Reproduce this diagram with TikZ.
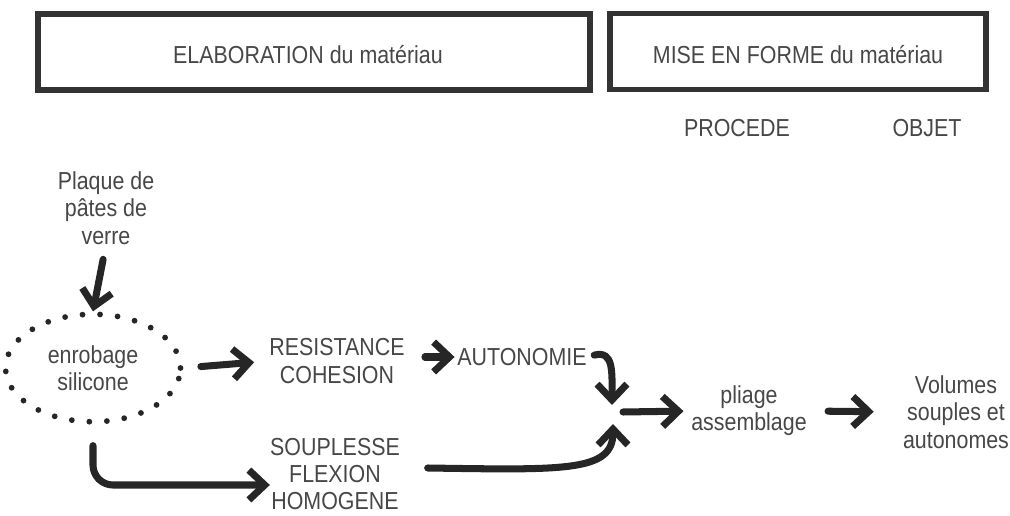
\documentclass[tikz,border=0pt]{standalone}
\usepackage{fontspec}
\setmainfont{Liberation Sans}[FakeStretch=0.87]
\usetikzlibrary{arrows.meta, shapes.geometric, positioning}

\tikzset{
  lbl/.style={align=center, font=\fontsize{14}{15.5}\selectfont, inner sep=0pt, text=black!72},
  frame/.style={draw=black!80, line width=3.4pt, minimum height=1.52cm},
  fat/.style={-{Straight Barb[length=9pt,width=17pt,line width=4pt]}, line width=4pt, draw=black!85, line cap=round}
}

\begin{document}
\begin{tikzpicture}[x=0.02cm, y=-0.02cm]
\useasboundingbox (0,0) rectangle (1010,516);

% headers
\node[frame, minimum width=11.04cm] (elabbox) at (314,52) {};
\node[lbl] (elab) at (308,55) {ELABORATION du matériau};
\node[frame, minimum width=7.52cm] (misebox) at (798,51.5) {};
\node[lbl] (mise) at (798,55) {MISE EN FORME du matériau};
\node[lbl] (procede) at (737,128) {PROCEDE};
\node[lbl] (objet) at (927,128) {OBJET};

% material
\node[lbl] (plaque) at (106,208) {Plaque de\\pâtes de\\verre};
\node[lbl, ellipse, draw=black!85, line width=3.3pt, line cap=round,
  dash pattern=on 0pt off 10pt, minimum width=3.5cm, minimum height=2.15cm] (enrob) at (93,368) {enrobage\\silicone};
\node[lbl] (resist) at (337,361) {RESISTANCE\\COHESION};
\node[lbl] (auto) at (522,357) {AUTONOMIE};
\node[lbl] (souple) at (335,474) {SOUPLESSE\\FLEXION\\HOMOGENE};

% forming
\coordinate (jtop) at (612,405);
\coordinate (jbot) at (613,424);
\coordinate (join) at (623,412);
\node[lbl] (pliage) at (749,411) {pliage\\assemblage};
\node[lbl] (volumes) at (956,412) {Volumes\\souples et\\autonomes};

\draw[fat, shorten <=0.3cm] (plaque.south) -- (enrob.north);
\draw[fat, shorten <=0.35cm, shorten >=0.3cm] (enrob.east) -- (resist.west);
\draw[fat, shorten <=0.4cm, shorten >=0.05cm] (resist.east |- auto.west) -- (auto.west);
\draw[fat, shorten <=0.15cm] (auto.east) .. controls (614,350) and (612,372) .. (jtop);
\draw[fat, rounded corners=0.4cm] ([yshift=-0.42cm]enrob.south) |- ([yshift=-0.22cm]souple.west);
\draw[fat] ([xshift=0.55cm, yshift=0.12cm]souple.east) .. controls (565,470) and (613,472) .. (jbot);
\draw[fat, shorten >=0.15cm] (join) -- (pliage.west);
\draw[fat, shorten <=0.42cm, shorten >=0.58cm] (pliage.east) -- (volumes.west);

\end{tikzpicture}
\end{document}
